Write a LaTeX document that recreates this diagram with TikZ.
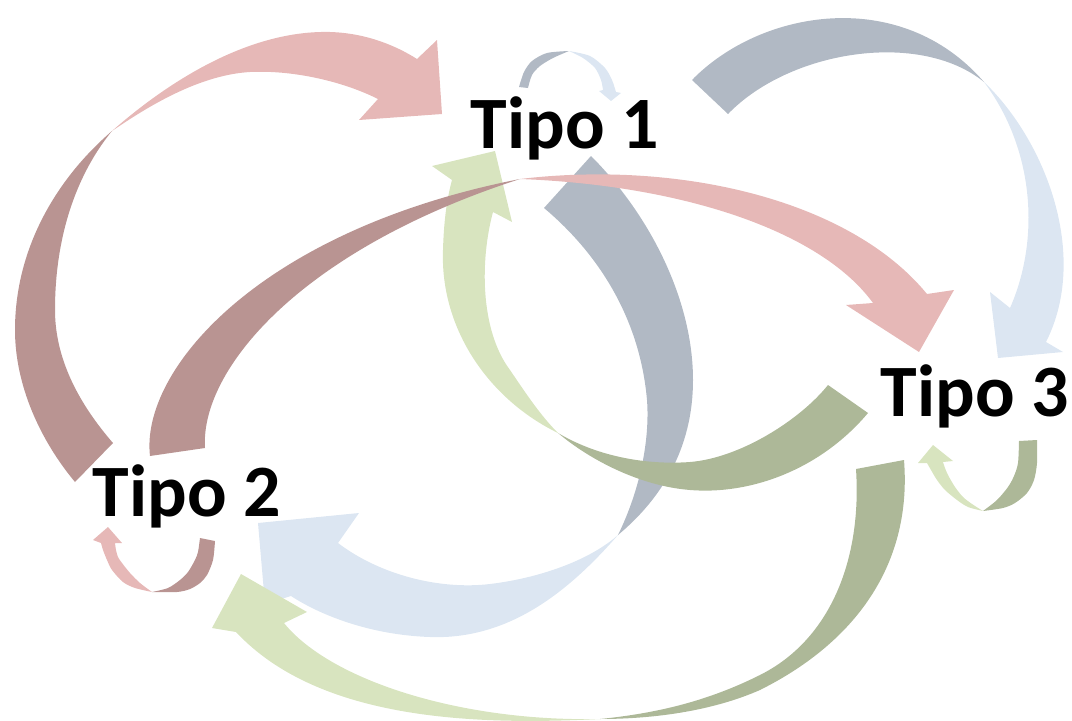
\documentclass[tikz,border=0pt]{standalone}
\usepackage{fontspec}
\setmainfont{Carlito}
\definecolor{reddark}{RGB}{185,148,146}
\definecolor{redlight}{RGB}{230,184,183}
\definecolor{bluedark}{RGB}{177,185,196}
\definecolor{bluelight}{RGB}{220,230,242}
\definecolor{greendark}{RGB}{173,184,152}
\definecolor{greenlight}{RGB}{216,228,191}
\begin{document}
\begin{tikzpicture}[x=0.01cm,y=-0.01cm,
  tipo/.style={font=\fontsize{21}{25}\selectfont\bfseries,anchor=base,inner sep=0pt}]
\useasboundingbox (0,0) rectangle (1072,721);
\fill[bluedark] (591,156) .. controls (650,215) and (693,300) .. (693,380) .. controls (693,450) and (660,500) .. (618,535)
  .. controls (640,490) and (650,440) .. (647,400) .. controls (640,320) and (600,255) .. (544,208) -- cycle;
\fill[bluelight] (618,535) .. controls (570,590) and (510,640) .. (430,637) .. controls (370,635) and (320,615) .. (291,596)
  -- (265,604) -- (258,523) -- (359,513) -- (338,543)
  .. controls (380,575) and (440,590) .. (490,584) .. controls (540,578) and (590,560) .. (618,535) -- cycle;
\fill[bluedark] (692,80) .. controls (760,10) and (900,-15) .. (984,82)
  .. controls (920,30) and (790,50) .. (728,114) -- cycle;
\fill[bluelight] (984,82) .. controls (1045,140) and (1090,255) .. (1046,342)
  -- (1063,352) -- (998,358) -- (990,292) -- (1010,308)
  .. controls (1040,240) and (1035,150) .. (984,82) -- cycle;
\fill[greendark] (868,413) .. controls (820,470) and (750,495) .. (690,490) .. controls (640,486) and (590,460) .. (558,433)
  .. controls (600,458) and (650,465) .. (690,462) .. controls (740,458) and (800,420) .. (828,385) -- cycle;
\fill[greenlight] (558,433) .. controls (490,400) and (440,330) .. (443,250) .. controls (444,215) and (448,195) .. (452,180)
  -- (432,166) -- (495,151) -- (512,222) -- (493,212)
  .. controls (480,260) and (480,330) .. (510,370) .. controls (525,392) and (540,415) .. (558,433) -- cycle;
\fill[greendark] (904,460) .. controls (912,560) and (860,640) .. (760,690) .. controls (710,712) and (650,719) .. (600,719)
  .. controls (660,713) and (710,700) .. (760,675) .. controls (830,640) and (862,560) .. (856,469) -- cycle;
\fill[greenlight] (600,719) .. controls (480,725) and (320,722) .. (236,632)
  -- (212,628) -- (241,574) -- (307,612) -- (284,623)
  .. controls (330,680) and (460,722) .. (600,719) -- cycle;
\fill[reddark] (75,482) .. controls (40,440) and (15,385) .. (15,330) .. controls (15,250) and (55,180) .. (112,131)
  .. controls (80,170) and (55,230) .. (55,310) .. controls (55,360) and (80,405) .. (113,443) -- cycle;
\fill[redlight] (112,131) .. controls (170,80) and (250,30) .. (330,32) .. controls (365,33) and (395,45) .. (417,59)
  -- (437,40) -- (442,114) -- (359,120) -- (378,99)
  .. controls (340,80) and (290,70) .. (250,72) .. controls (200,75) and (150,105) .. (112,131) -- cycle;
\fill[reddark] (150,456) .. controls (140,370) and (260,230) .. (520,179)
  .. controls (300,250) and (200,370) .. (205,448) -- cycle;
\fill[redlight] (520,179) .. controls (680,160) and (850,200) .. (927,294)
  -- (954,290) -- (919,352) -- (846,305) -- (873,303)
  .. controls (820,230) and (680,185) .. (520,179) -- cycle;
\fill[bluedark] plot[smooth] coordinates {(519,87) (524,72) (532,61) (547,53) (569,51)}
  -- plot[smooth] coordinates {(569,51) (553,58) (540,66) (532,75) (528,88)} -- cycle;
\fill[bluelight] plot[smooth] coordinates {(569,51) (590,56) (605,68) (612,80) (616,92)}
  -- (621,93) -- (611,101) -- (599,91)
  -- plot[smooth] coordinates {(603,90) (601,80) (595,68) (583,58) (569,51)} -- cycle;
\fill[reddark] plot[smooth] coordinates {(215,541) (213,560) (207,575) (200,583) (190,589) (177,592) (152,592)}
  -- plot[smooth] coordinates {(152,592) (168,588) (180,580) (188,572) (195,560) (198,552) (200,538)} -- cycle;
\fill[redlight] plot[smooth] coordinates {(152,592) (135,588) (123,582) (112,570) (107,560) (103,550) (101,543)}
  -- (93,540) -- (108,527) -- (122,543)
  -- plot[smooth] coordinates {(115,543) (116,550) (118,557) (122,563) (130,573) (140,583) (152,592)} -- cycle;
\fill[greendark] plot[smooth] coordinates {(1037,440) (1037,463) (1034,480) (1027,493) (1015,503) (1003,508) (983,511)}
  -- plot[smooth] coordinates {(983,511) (997,500) (1008,487) (1014,476) (1018,463) (1019,441)} -- cycle;
\fill[greenlight] plot[smooth] coordinates {(983,511) (968,507) (957,500) (945,490) (937,480) (931,470) (927,463)}
  -- (918,463) -- (933,445) -- (953,461)
  -- plot[smooth] coordinates {(943,462) (945,468) (948,475) (955,487) (963,497) (972,504) (983,511)} -- cycle;
\node[tipo] (t1) at (565,149) {Tipo 1};
\node[tipo] (t2) at (187,516) {Tipo 2};
\node[tipo] (t3) at (975,416) {Tipo 3};
\end{tikzpicture}
\end{document}
